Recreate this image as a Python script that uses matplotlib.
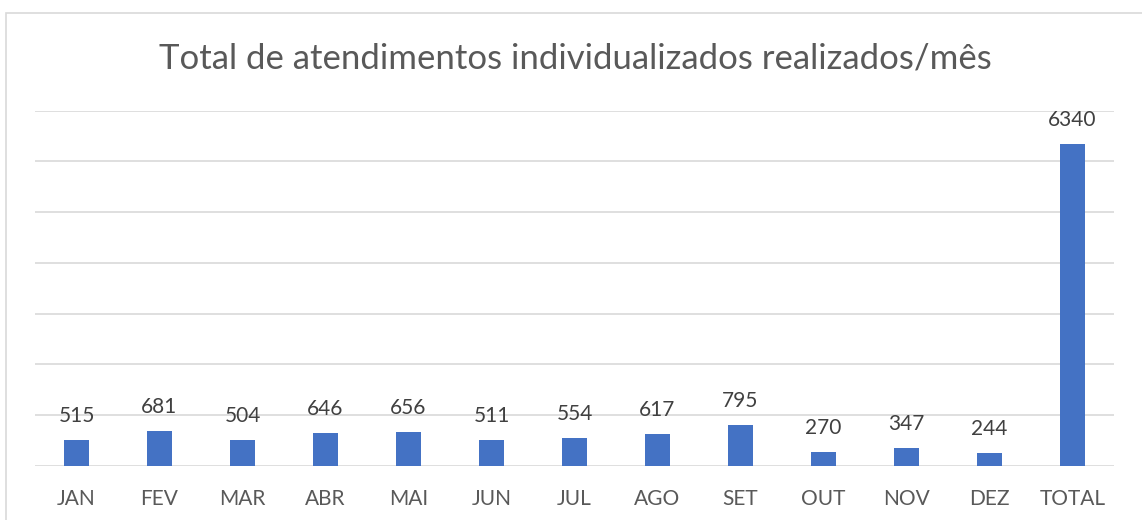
import matplotlib
matplotlib.use('Agg')
import matplotlib.pyplot as plt
from matplotlib.patches import Rectangle

# Data
meses = ['JAN', 'FEV', 'MAR', 'ABR', 'MAI', 'JUN', 'JUL', 'AGO', 'SET',
         'OUT', 'NOV', 'DEZ', 'TOTAL']
atendimentos = [515, 681, 504, 646, 656, 511, 554, 617, 795, 270, 347, 244, 6340]

W, H = 1142, 520
plt.rcParams['font.family'] = ['Lato', 'DejaVu Sans']
texto = '#595959'

fig = plt.figure(figsize=(W / 100, H / 100), dpi=100)

# Chart border (cut off on the right and bottom in the original)
fig.patches.append(Rectangle((5.5 / W, -0.1), 1.2, (H - 12.5) / H + 0.1,
                             transform=fig.transFigure, fill=False,
                             edgecolor='#D9D9D9', linewidth=1.2))

ax = fig.add_axes([35 / W, (H - 465.7) / H, (1114 - 35) / W, (465.7 - 110.7) / H])

x = range(len(meses))
bars = ax.bar(x, atendimentos, width=0.31, color='#4472C4', zorder=3)

ax.set_ylim(0, 7000)
ax.set_xlim(-0.5, len(meses) - 0.5)
ax.set_yticks(range(0, 7001, 1000))
ax.yaxis.grid(True, color='#D9D9D9', linewidth=1.2)
ax.set_yticklabels([])
ax.tick_params(axis='y', length=0)
ax.tick_params(axis='x', length=0, pad=16.5, labelsize=15, labelcolor=texto)
ax.set_xticks(list(x))
ax.set_xticklabels(meses)
for s in ax.spines.values():
    s.set_visible(False)

for b, v in zip(bars, atendimentos):
    ax.annotate(str(v), (b.get_x() + b.get_width() / 2, v),
                xytext=(0, 13), textcoords='offset points',
                ha='center', va='baseline', fontsize=15, color='#404040')

fig.text(575 / W, (H - 68) / H, 'Total de atendimentos individualizados realizados/mês',
         ha='center', va='baseline', fontsize=25, color=texto)

fig.savefig('out.png', dpi=100)
